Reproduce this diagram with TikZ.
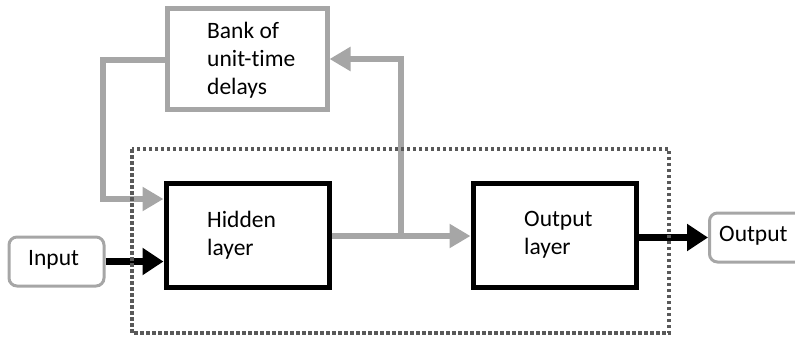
\documentclass[tikz,border=0pt]{standalone}
\usepackage{fontspec}
\setmainfont{Carlito}[Ligatures=NoCommon]
\usetikzlibrary{arrows.meta}
\definecolor{lgrey}{HTML}{A6A6A6}
\definecolor{dgrey}{HTML}{595959}
\begin{document}
\begin{tikzpicture}[x=1pt,y=-1pt,
  font=\fontsize{23.5}{28}\selectfont,
  layerbox/.style={draw=black, line width=5pt, fill=white, inner sep=0pt},
  delaybox/.style={draw=lgrey, line width=5pt, fill=white, inner sep=0pt},
  iobox/.style={draw=lgrey, line width=3pt, rounded corners=8pt, fill=white, inner sep=0pt},
  txt/.style={anchor=west, align=left, inner sep=0pt},
  greyflow/.style={draw=lgrey, line width=6pt, -{Triangle[length=21pt,width=23pt]}},
  blackflow/.style={draw=black, line width=7pt, -{Triangle[length=21pt,width=26pt]}},
]
\useasboundingbox (0,0) rectangle (795,338);

% boxes
\node[delaybox, minimum width=160pt, minimum height=101pt] (bank) at (247,58.5) {};
\node[layerbox, minimum width=163pt, minimum height=104pt] (hid) at (247.5,235) {};
\node[layerbox, minimum width=163pt, minimum height=104pt] (out) at (554.5,235) {};
\node[iobox, minimum width=95pt, minimum height=49pt] (inp) at (56.5,261.5) {};
\node[iobox, minimum width=110pt, minimum height=49pt, anchor=west] (res) at (708,237.5) {};

% labels
\node[txt] (banktxt) at (207,60) {Bank of\\unit-time\\delays};
\node[txt] (hidtxt) at (207,235) {Hidden\\layer};
\node[txt] (outtxt) at (524,235) {Output\\layer};
\node[txt] (inptxt) at (28,260) {Input};
\node[txt] (restxt) at (719,236) {Output};

% branch point and corners of the feedback loop
\coordinate (br) at (401,236);
\coordinate (brtop) at (401,59);
\coordinate (lt) at (103,60);
\coordinate (lb) at (103,199);

% hidden -> output layer
\draw[greyflow] (hid.east |- br) -- (out.west |- br);
% feedback through the delay bank
\draw[greyflow, line join=miter] (br) -- (brtop) -- (bank.east |- brtop);
\draw[greyflow, line join=miter] (bank.west |- lt) -- (lt) -- (lb) -- (hid.west |- lb);

% input and output
\draw[blackflow] (inp.east) -- (hid.west |- inp.east);
\draw[blackflow] (out.east |- res.west) -- (res.west);

% network boundary
\draw[dgrey, line width=3.5pt, dash pattern=on 3.5pt off 2.5pt] (132,149) rectangle (669,333);
\end{tikzpicture}
\end{document}
